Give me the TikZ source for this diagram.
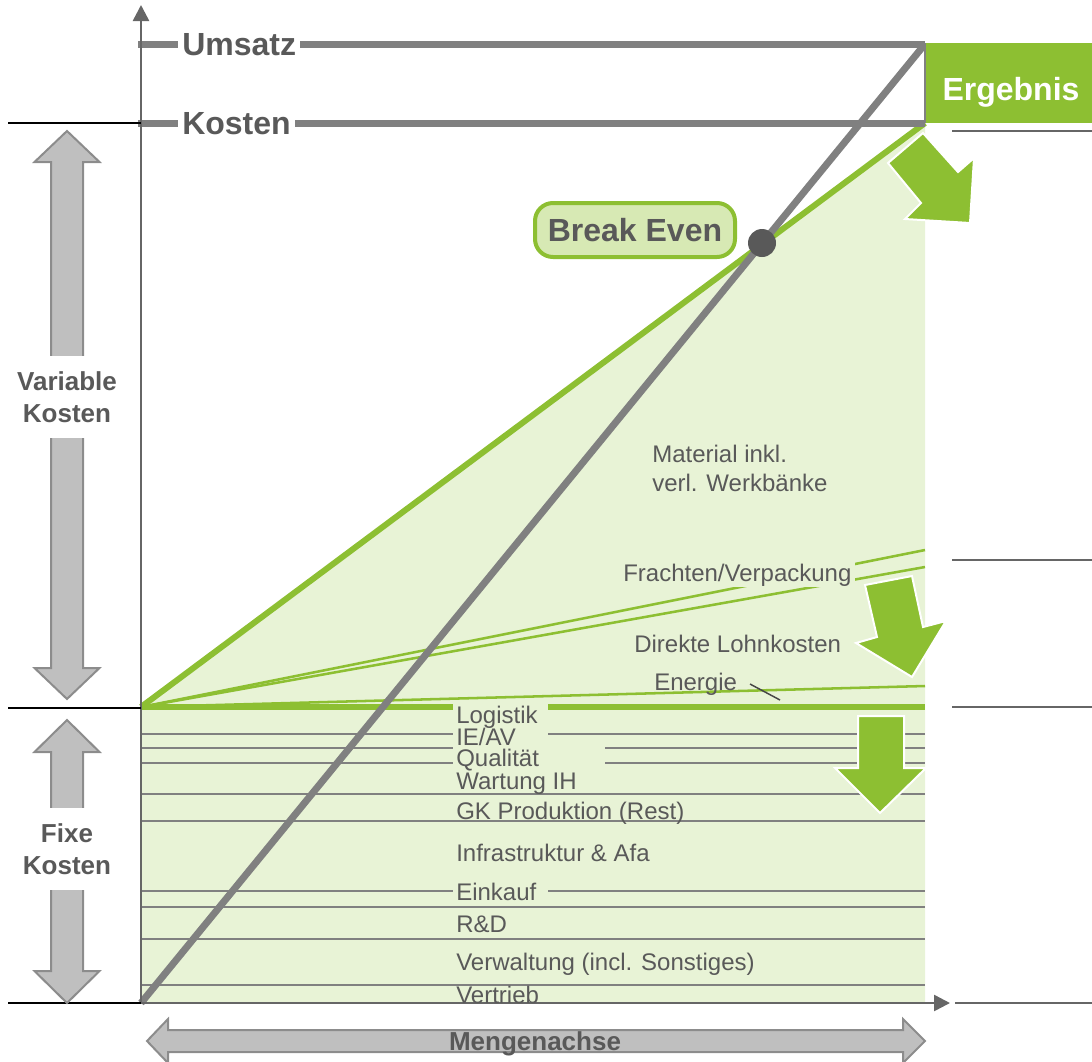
\documentclass[tikz,border=0pt]{standalone}
\usepackage{fontspec}
\setmainfont{Liberation Sans}
\usepackage{xcolor}
\usetikzlibrary{arrows.meta}

\definecolor{kgreen}{HTML}{8DBF32}
\definecolor{kfill}{HTML}{E8F3D6}
\definecolor{kbefill}{HTML}{D7E9B4}
\definecolor{kline}{HTML}{808080}
\definecolor{ktext}{HTML}{595959}
\definecolor{kaxis}{HTML}{666666}
\definecolor{karrow}{HTML}{BFBFBF}
\definecolor{karrowedge}{HTML}{8C8C8C}

\tikzset{
  lbl/.style={text=ktext, font=\fontsize{18}{21.75}\selectfont, inner sep=0pt, anchor=base west},
  headlbl/.style={text=ktext, font=\bfseries\fontsize{24}{28}\selectfont},
  sidelbl/.style={text=ktext, font=\bfseries\fontsize{19.5}{24}\selectfont, align=center, fill=white},
  fixline/.style={draw=kline, line width=1.5pt},
  varline/.style={draw=kgreen, line width=1.9pt},
  refline/.style={draw=black, line width=1.1pt},
  blockarrow/.style={fill=karrow, draw=karrowedge, line width=1.5pt, line join=miter},
  greenarrow/.style={fill=kgreen, draw=white, line width=1.5pt, line join=miter}
}

\begin{document}
\begin{tikzpicture}[x=0.75pt,y=0.75pt,yscale=-1,xscale=1]

\useasboundingbox (0,0) rectangle (1092,1061);

\coordinate (O) at (141,1003);
\coordinate (F) at (141,707);
\coordinate (KE) at (925,123);
\coordinate (UE) at (925,44);
\coordinate (BE) at (762,243);

\fill[kfill] (F) -- (KE) -- (925,1003) -- (O) -- cycle;

\draw[fixline] (141,734) -- (453,734) (548,734) -- (925,734);
\draw[fixline] (141,748) -- (453,748) (605,748) -- (925,748);
\draw[fixline] (141,763) -- (453,763) (605,763) -- (925,763);
\draw[fixline] (141,794) -- (925,794);
\draw[fixline] (141,821) -- (925,821);
\draw[fixline] (141,891) -- (453,891) (548,891) -- (925,891);
\draw[fixline] (141,907) -- (925,907);
\draw[fixline] (141,939) -- (925,939);
\draw[fixline] (141,985) -- (925,985);

\draw[varline] (F) -- (925,686);
\draw[varline] (F) -- (925,550);
\draw[varline] (F) -- (925,567);

\draw[kgreen, line width=4.5pt] (F) -- (453,707) (548,707) -- (925,707);
\draw[kgreen, line width=4.5pt] (F) -- (KE);

\draw[kline, line width=5.25pt] (O) -- (UE);
\draw[kline, line width=5.25pt] (138,44) -- (UE);
\draw[kline, line width=5.25pt] (138,123) -- (KE);

\draw[kaxis, line width=1.9pt, -{Triangle[length=12pt,width=12pt]}] (O) -- (141,5);
\draw[kaxis, line width=1.9pt, -{Triangle[length=12pt,width=12pt]}] (O) -- (950,1003);

\draw[refline] (8,123) -- (141,123);
\draw[refline] (8,708) -- (141,708);
\draw[refline] (8,1003) -- (O);
\draw[kaxis, line width=1.5pt] (952,131) -- (1092,131);
\draw[kaxis, line width=1.5pt] (952,560) -- (1092,560);
\draw[kaxis, line width=1.5pt] (952,707) -- (1092,707);
\draw[kaxis, line width=1.5pt] (955,1003) -- (1092,1003);

\fill[kgreen] (925,43) rectangle (1092,123);
\draw[kline, line width=1.5pt] (925,43) -- (925,123);

\draw[greenarrow] (888,163) -- (923,133) -- (958,172) -- (974,158) -- (970,223) -- (905,219) -- (921,203) -- cycle;
\draw[greenarrow] (865,585) -- (912,576) -- (923,627) -- (946,621) -- (912,677) -- (856,643) -- (877,637) -- cycle;
\draw[greenarrow] (858,716) -- (904,716) -- (904,768) -- (926,768) -- (880,813) -- (835,768) -- (858,768) -- cycle;

\draw[blockarrow] (67,131) -- (99.5,162) -- (83,162) -- (83,668) -- (99.5,668) -- (67,699) -- (34.5,668) -- (51,668) -- (51,162) -- (34.5,162) -- cycle;
\draw[blockarrow] (67,720) -- (99.5,752) -- (83,752) -- (83,971) -- (99.5,971) -- (67,1003) -- (34.5,971) -- (51,971) -- (51,752) -- (34.5,752) -- cycle;
\draw[blockarrow] (147,1041) -- (168,1019) -- (168,1030) -- (903,1030) -- (903,1019) -- (925,1041) -- (903,1063) -- (903,1052) -- (168,1052) -- (168,1063) -- cycle;

\node[headlbl, fill=white, inner xsep=3pt, inner ysep=1pt, anchor=base west] (umsatz) at (178,55) {Umsatz};
\node[headlbl, fill=white, inner xsep=3pt, inner ysep=1pt, anchor=base west] (kosten) at (178,134.5) {Kosten};
\node[headlbl, text=white, anchor=base] (ergebnis) at (1011,100) {Ergebnis};
\node[headlbl, draw=kgreen, fill=kbefill, line width=3pt, rounded corners=13.5pt, minimum width=150pt, minimum height=40.5pt] (breakeven) at (635,230) {Break Even};
\fill[ktext] (BE) circle[radius=10.5pt];

\node[sidelbl, inner ysep=11.25pt] (varkosten) at (67,397) {Variable\\Kosten};
\node[sidelbl, inner ysep=11.5pt] (fixkosten) at (67,849) {Fixe\\Kosten};
\node[text=ktext, font=\bfseries\fontsize{19.5}{24}\selectfont, anchor=base] (menge) at (535,1050) {Mengenachse};

\node[lbl] (material) at (652,462) {Material inkl.};
\node[lbl] (werkbank) at (652,491) {verl. Werkbänke};
\node[lbl, fill=kfill, inner xsep=3pt, inner ysep=1pt] (fracht) at (619,581) {Frachten/Verpackung};
\node[lbl] (lohn) at (634,652) {Direkte Lohnkosten};
\node[lbl] (energie) at (654,690) {Energie};
\draw[ktext!80!black, line width=1.1pt] (750,684) -- (780,700);

\node[lbl] (logistik) at (456,723) {Logistik};
\node[lbl] (ieav) at (456,745) {IE/AV};
\node[lbl] (quali) at (456,766) {Qualität};
\node[lbl] (wartung) at (456,789) {Wartung IH};
\node[lbl] (gkprod) at (456,819) {GK Produktion (Rest)};
\node[lbl] (infra) at (456,861) {Infrastruktur \& Afa};
\node[lbl] (einkauf) at (456,900) {Einkauf};
\node[lbl] (rd) at (456,932) {R\&D};
\node[lbl] (verwaltung) at (456,970) {Verwaltung (incl. Sonstiges)};
\node[lbl] (vertrieb) at (456,1003) {Vertrieb};

\end{tikzpicture}
\end{document}
